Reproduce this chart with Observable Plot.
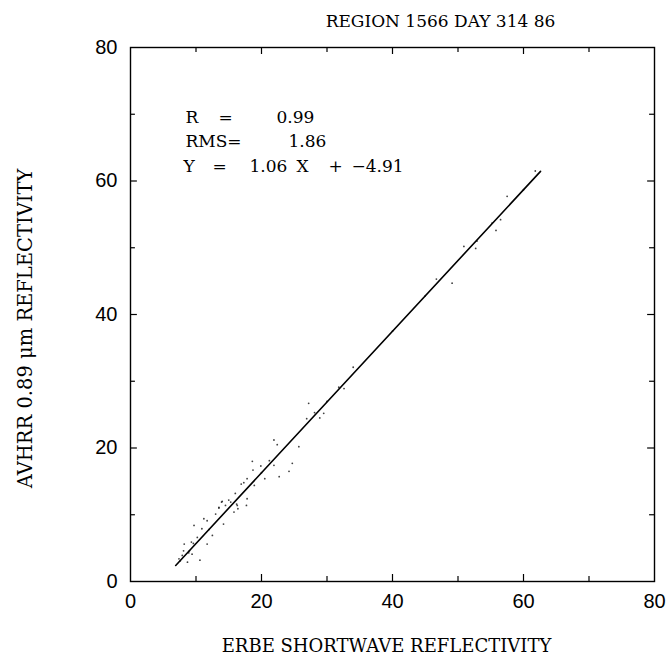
<!DOCTYPE html>
<html>
<head>
<meta charset="utf-8">
<script src="https://cdn.jsdelivr.net/npm/d3@7"></script>
<script src="https://cdn.jsdelivr.net/npm/@observablehq/plot@0.6"></script>
<style>
  html, body { margin: 0; padding: 0; background: #fff; }
  #chart svg { display: block; }
</style>
</head>
<body>
<div id="chart"></div>
<script>
// ---- data ----
const title = "REGION 1566 DAY 314 86";
const xLabel = "ERBE SHORTWAVE REFLECTIVITY";
const yLabel = "AVHRR 0.89 \u03BCm REFLECTIVITY";
const xTicks = [0, 20, 40, 60, 80];
const yTicks = [0, 20, 40, 60, 80];
const minorTicks = [10, 30, 50, 70];

// scattered observations (ERBE x, AVHRR y)
const erbe = [8.2, 9.3, 9.6, 10.9, 11.7, 14.2, 13.9, 15.3, 17.7, 9.7, 12.5, 11.7, 10.6, 9.4, 7.9, 8.1, 8.7, 7.4, 10.2, 11.2,
  13.0, 13.5, 15.8, 16.3, 14.5, 21.9, 22.4, 19.9, 18.7, 18.6, 17.8, 17.3, 20.5, 21.2, 21.9, 24.2, 24.7, 22.7, 25.7, 16.0,
  15.0, 17.8, 14.0, 13.5, 16.4, 16.2, 18.9, 16.9, 34.0, 32.6, 31.8, 27.2, 26.9, 29.5, 28.9, 28.1, 61.8, 57.5, 56.5, 55.8,
  55.2, 52.9, 52.7, 50.9, 49.1, 46.7, 9.0, 12.0, 20.0, 30.0, 40.0, 45.0, 60.0, 7.6, 8.9];
const avhrr = [5.6, 5.9, 5.7, 7.9, 9.1, 8.6, 11.9, 11.9, 11.4, 8.4, 6.9, 5.6, 3.2, 4.1, 3.9, 4.6, 2.9, 3.4, 6.6, 9.4,
  10.1, 11.1, 10.4, 11.4, 11.4, 21.2, 20.5, 17.3, 16.7, 18.0, 15.4, 14.8, 15.4, 18.1, 17.4, 16.5, 17.7, 15.7, 20.2, 13.2,
  12.2, 12.4, 12.0, 11.0, 10.9, 11.6, 14.4, 14.6, 32.1, 28.9, 29.1, 26.7, 24.4, 25.2, 24.5, 25.3, 61.5, 57.7, 54.2, 52.6,
  53.7, 51.0, 49.9, 50.2, 44.7, 45.3, 4.6, 7.8, 16.3, 27.0, 37.5, 42.8, 58.7, 3.1, 4.3];

// regression fit
const slope = 1.06;
const intercept = -4.91;
const fitX = [6.9, 62.6];

// statistics block pieces
const statLabels = ["R", "=", "0.99", "RMS=", "1.86", "Y", "=", "1.06", "X", "+", "\u22124.91"];

// ---- build ----
const points = erbe.map((x, i) => ({x, y: avhrr[i]}));
const fitLine = fitX.map(x => ({x, y: slope * x + intercept}));

const serif = "'DejaVu Serif', serif";
const sans = "'Liberation Sans', Arial, sans-serif";

// placement of each statistic piece (pixel offsets from the frame's top-left)
const statPlace = [
  [55, 63], [88, 63], [146, 63],
  [55, 87], [158, 87],
  [53, 112], [82, 112], [119, 112], [166, 112], [198, 112], [221, 112]
];
const statMarks = statLabels.map((t, i) =>
  Plot.text([t], {text: d => d, frameAnchor: "top-left", dx: statPlace[i][0], dy: statPlace[i][1],
    textAnchor: "start", fontSize: 17, fontFamily: serif, fill: "black"}));

const tick = {stroke: "black", strokeWidth: 1.2};

const plot = Plot.plot({
  width: 669,
  height: 664,
  marginLeft: 130,
  marginRight: 15,
  marginTop: 47,
  marginBottom: 83,
  style: {background: "white", color: "black", overflow: "visible"},
  x: {domain: [0, 80]},
  y: {domain: [0, 80]},
  marks: [
    Plot.frame({stroke: "black", strokeWidth: 1.4}),
    // inward tick marks
    Plot.ruleX(xTicks.slice(1, -1), {x: d => d, y1: 0, y2: 1.05, ...tick}),
    Plot.ruleX(minorTicks, {x: d => d, y1: 0, y2: 0.75, ...tick}),
    Plot.ruleX(xTicks.slice(1, -1), {x: d => d, y1: 80, y2: 78.95, ...tick}),
    Plot.ruleX(minorTicks, {x: d => d, y1: 80, y2: 79.25, ...tick}),
    Plot.ruleY(yTicks.slice(1, -1), {y: d => d, x1: 0, x2: 1.05, ...tick}),
    Plot.ruleY(minorTicks, {y: d => d, x1: 0, x2: 0.75, ...tick}),
    Plot.ruleY(yTicks.slice(1, -1), {y: d => d, x1: 80, x2: 78.95, ...tick}),
    Plot.ruleY(minorTicks, {y: d => d, x1: 80, x2: 79.25, ...tick}),
    // tick labels
    Plot.axisX({ticks: xTicks, tickSize: 0, tickPadding: 12, fontSize: 20, fontFamily: sans, label: null}),
    Plot.axisY({ticks: yTicks, tickSize: 0, tickPadding: 13, fontSize: 20, fontFamily: sans, label: null}),
    // data
    Plot.dot(points, {x: "x", y: "y", r: 0.9, fill: "black", stroke: "none", fillOpacity: 0.75}),
    Plot.line(fitLine, {x: "x", y: "y", stroke: "black", strokeWidth: 1.6}),
    // texts
    Plot.text([title], {text: d => d, frameAnchor: "top", dx: 48, dy: -33, fontSize: 17, fontFamily: serif}),
    Plot.text([xLabel], {text: d => d, frameAnchor: "bottom", dx: -6, dy: 70, fontSize: 18, fontFamily: serif}),
    Plot.text([yLabel], {text: d => d, frameAnchor: "left", textAnchor: "middle", dx: -105, dy: 14, rotate: -90, fontSize: 19.5, fontFamily: serif}),
    ...statMarks
  ]
});
document.getElementById("chart").append(plot);
</script>
</body>
</html>
